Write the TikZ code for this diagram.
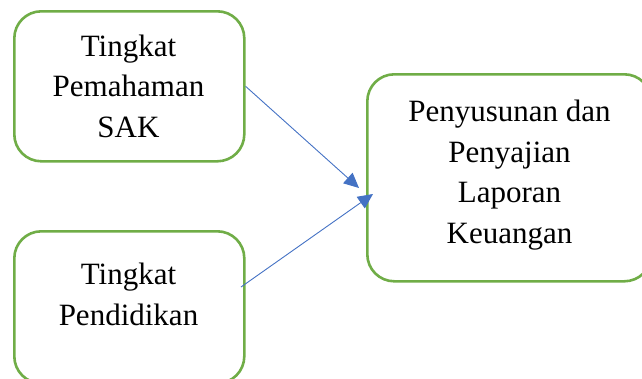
\documentclass[tikz,border=0pt]{standalone}
\usepackage{fontspec}
\setmainfont{Liberation Serif}
\usetikzlibrary{arrows.meta}
\definecolor{boxgreen}{HTML}{70AD47}
\definecolor{arrowblue}{HTML}{4472C4}
\begin{document}
\begin{tikzpicture}[x=1pt,y=-1pt,
  box/.style={draw=boxgreen,line width=2.6pt,rounded corners=27pt,inner sep=0pt,anchor=north west},
  txt/.style={align=center,anchor=base,inner sep=0pt,font=\fontsize{31}{40.5}\selectfont},
  link/.style={draw=arrowblue,line width=0.9pt,-{Triangle[length=15pt,width=14pt]}}]
\useasboundingbox (0,0) rectangle (642,378);
\node[box,minimum width=230pt,minimum height=150pt] (b1) at (13,10) {};
\node[box,minimum width=230pt,minimum height=152pt] (b2) at (13,230) {};
\node[box,minimum width=284pt,minimum height=207pt] (b3) at (366,73) {};
\node[txt] (t1) at (128.5,137) {Tingkat\\Pemahaman\\SAK};
\node[txt] (t2) at (128.5,325) {Tingkat\\Pendidikan};
\node[txt] (t3) at (509.5,243) {Penyusunan dan\\Penyajian\\Laporan\\Keuangan};
\coordinate (s2) at (241,287);
\coordinate (e1) at (359,188);
\coordinate (e2) at (373,194);
\draw[link] (b1.east) -- (e1);
\draw[link] (s2) -- (e2);
\end{tikzpicture}
\end{document}
